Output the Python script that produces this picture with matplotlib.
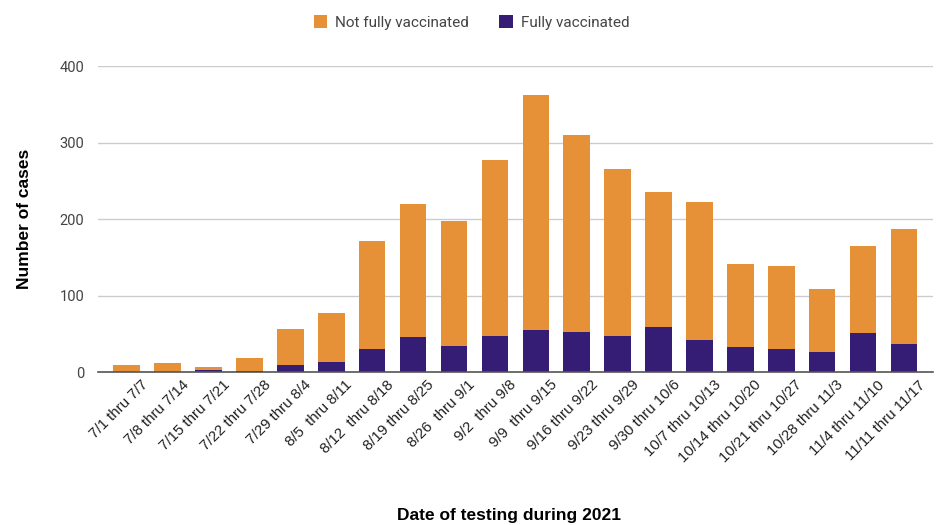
import numpy as np
import matplotlib
matplotlib.use('Agg')
import matplotlib.pyplot as plt

weeks = ['7/1 thru 7/7', '7/8 thru 7/14', '7/15 thru 7/21', '7/22 thru 7/28',
         '7/29 thru 8/4', '8/5  thru 8/11', '8/12  thru 8/18', '8/19 thru 8/25',
         '8/26  thru 9/1', '9/2  thru 9/8', '9/9  thru 9/15', '9/16 thru 9/22',
         '9/23 thru 9/29', '9/30 thru 10/6', '10/7 thru 10/13', '10/14 thru 10/20',
         '10/21 thru 10/27', '10/28 thru 11/3', '11/4 thru 11/10', '11/11 thru 11/17']
fully = [0, 0, 3, 2, 10, 14, 30, 46, 34, 47, 55, 52, 47, 59, 42, 33, 30, 27, 51, 37]
not_fully = [9, 12, 4, 16, 47, 64, 142, 174, 164, 230, 307, 258, 218, 176, 181, 109, 109, 82, 114, 150]

plt.rcParams['font.family'] = ['Roboto', 'DejaVu Sans']

fig = plt.figure(figsize=(9.43, 5.25), dpi=100)
ax = fig.add_axes([0.104, 0.291, 0.885, 0.583])

x = np.arange(len(weeks))
ax.bar(x, fully, width=0.65, color='#351C75', label='Fully vaccinated', zorder=3)
ax.bar(x, not_fully, width=0.65, bottom=fully, color='#E69138',
       label='Not fully vaccinated', zorder=3)

ax.set_ylim(0, 400)
ax.set_xlim(-0.7, len(weeks) - 0.3)
ax.set_yticks([0, 100, 200, 300, 400])
ax.grid(axis='y', color='#cccccc', linewidth=1, zorder=0)
ax.tick_params(axis='y', length=0, pad=10, labelsize=10.5, labelcolor='#444444')
ax.tick_params(axis='x', length=0, pad=4)
for s in ['top', 'right', 'left']:
    ax.spines[s].set_visible(False)
ax.spines['bottom'].set_color('#555555')
ax.spines['bottom'].set_linewidth(1.2)
ax.spines['bottom'].set_zorder(4)

ax.set_xticks(x)
ax.set_xticklabels(weeks, rotation=45, ha='right', rotation_mode='anchor',
                   fontsize=10.8, color='#222222', family=['Liberation Sans', 'DejaVu Sans'])
for lbl in ax.get_xticklabels():
    lbl.set_transform(lbl.get_transform() + matplotlib.transforms.ScaledTranslation(0.14, 0, fig.dpi_scale_trans))

ax.set_ylabel('Number of cases', fontsize=12.5, fontweight='bold',
              family=['Liberation Sans', 'DejaVu Sans'], labelpad=20)
fig.text(0.54, 0.018, 'Date of testing during 2021', ha='center', va='center',
         fontsize=12.5, fontweight='bold', family=['Liberation Sans', 'DejaVu Sans'])

handles, labels = ax.get_legend_handles_labels()
leg = fig.legend(handles[::-1], labels[::-1], loc='center', bbox_to_anchor=(0.5, 0.957),
                 ncol=2, frameon=False, fontsize=11, handlelength=0.9, handleheight=0.9,
                 handletextpad=0.5, columnspacing=2.0)
for t in leg.get_texts():
    t.set_color('#444444')

fig.savefig('out.png', dpi=100)
